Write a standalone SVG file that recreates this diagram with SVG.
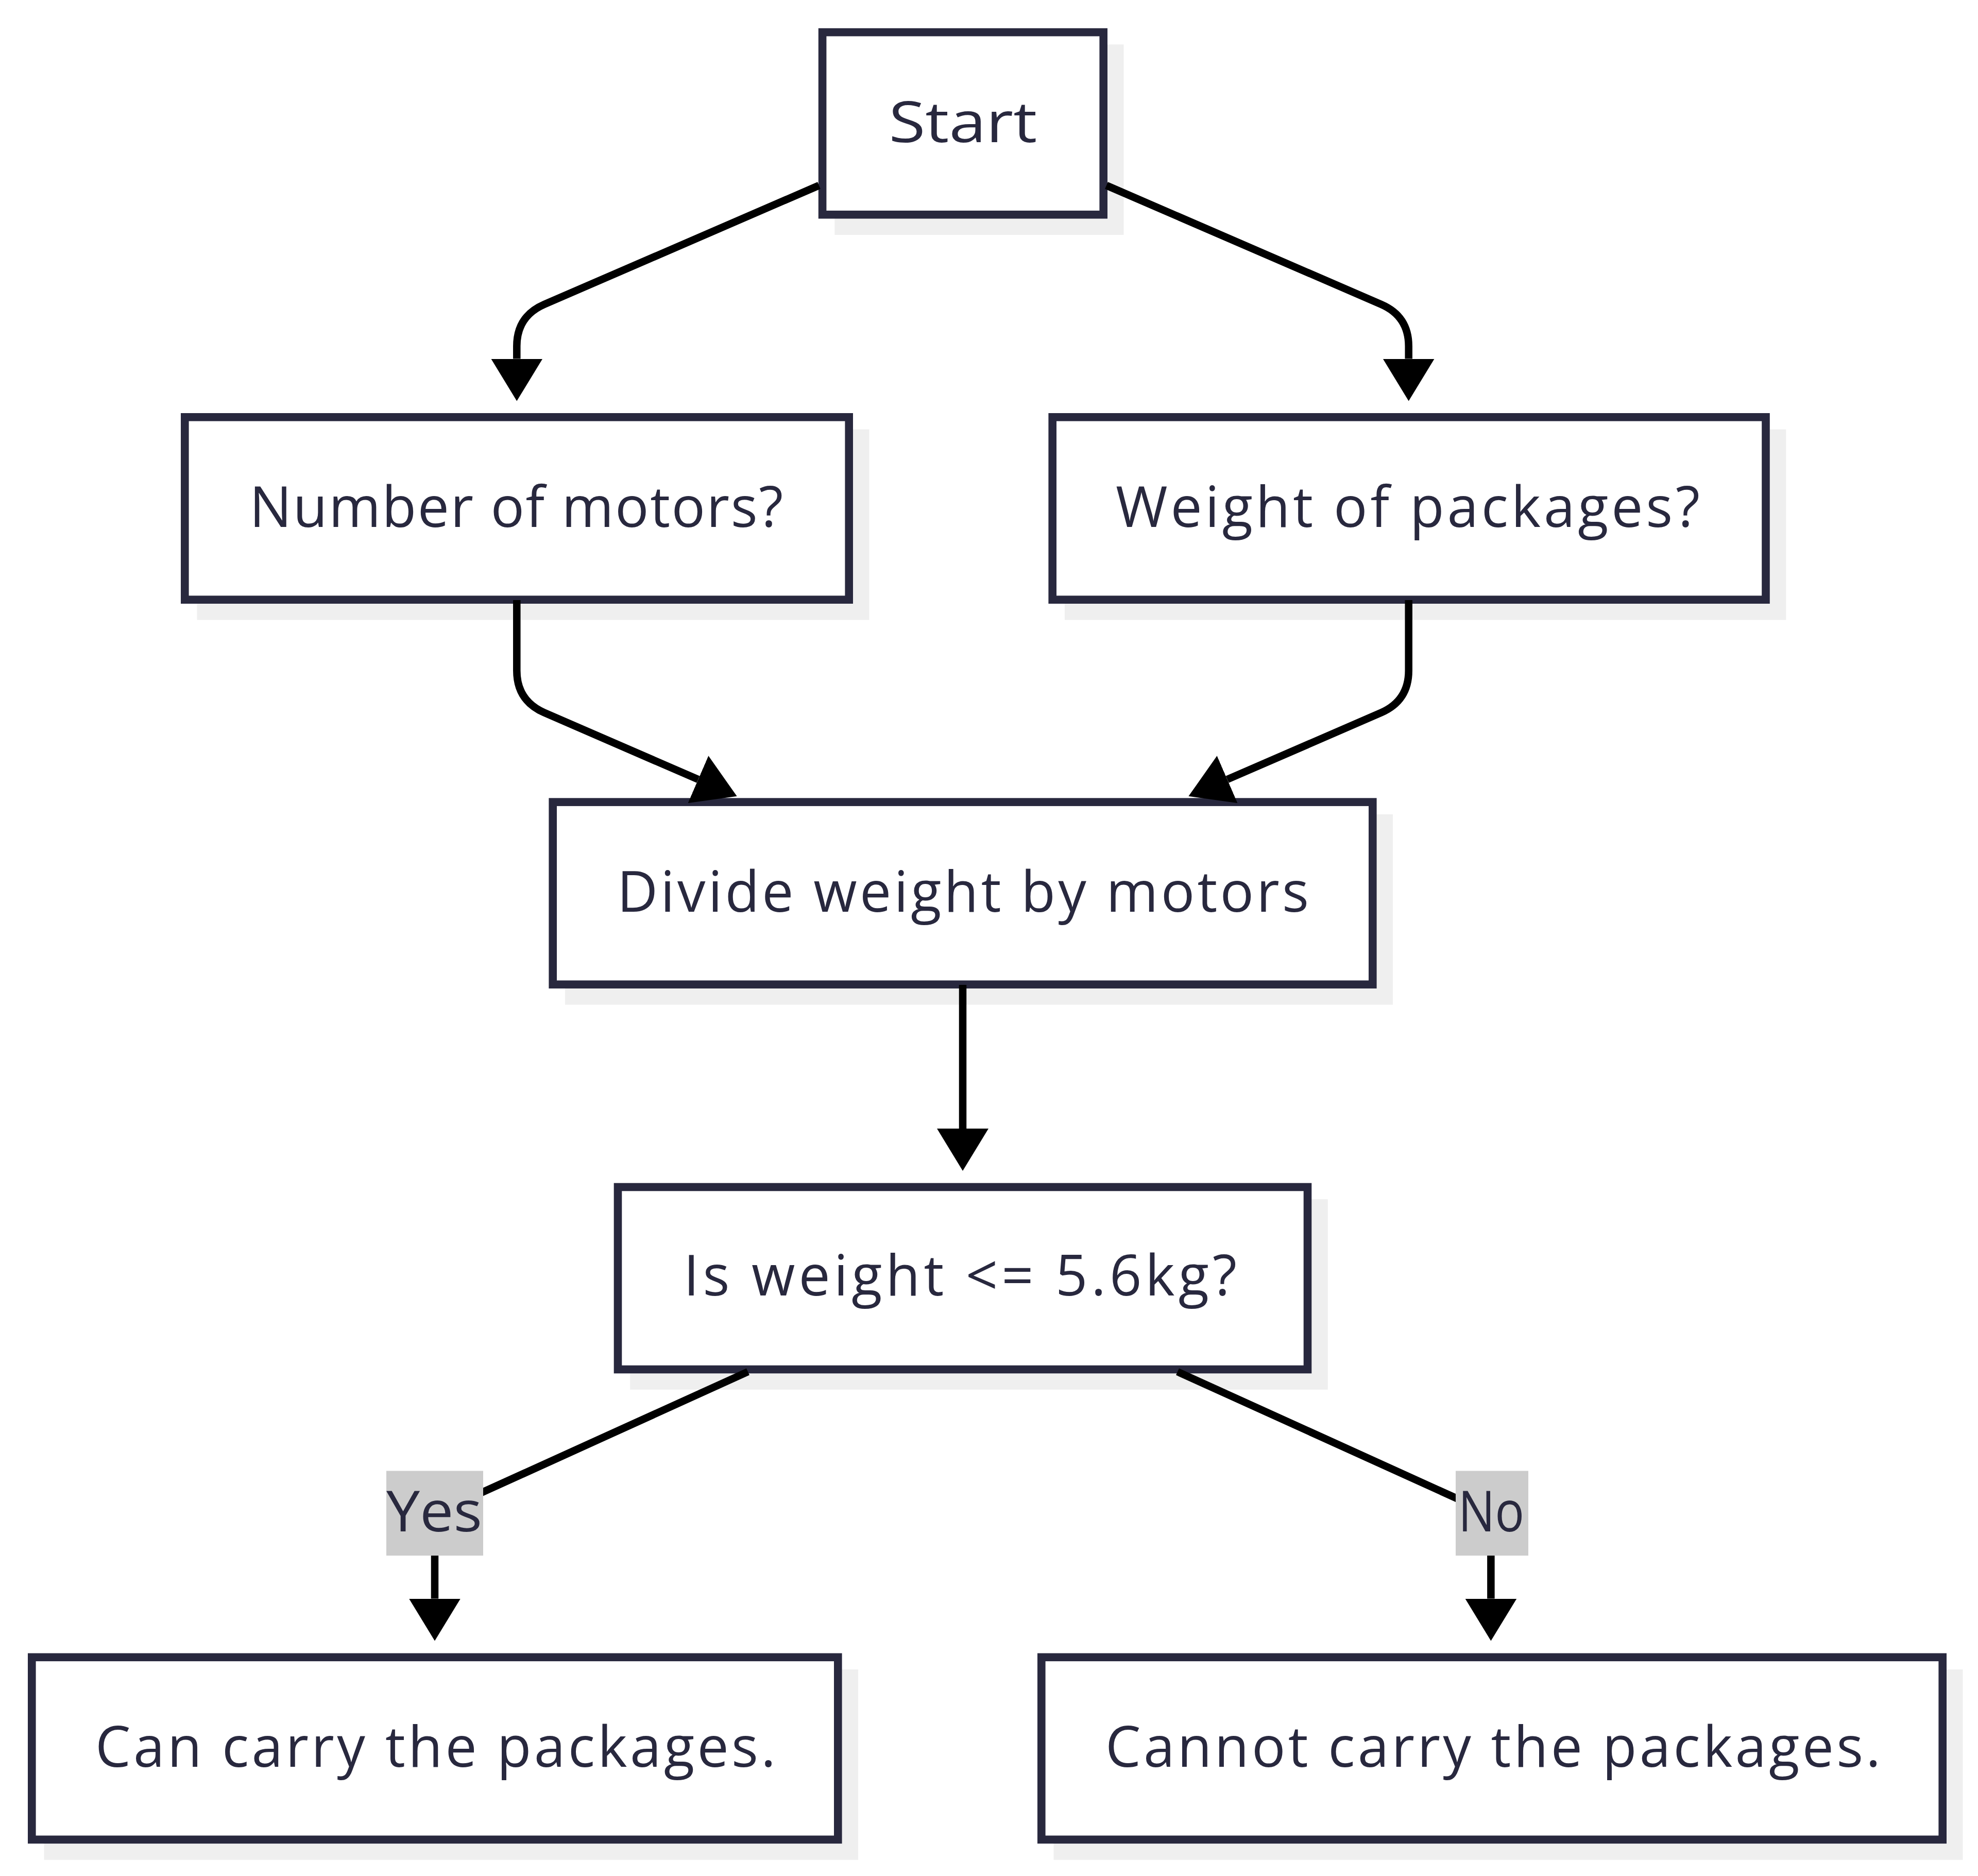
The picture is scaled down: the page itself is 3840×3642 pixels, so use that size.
<svg xmlns="http://www.w3.org/2000/svg" width="3840" height="3642" viewBox="0 0 3840 3642">
<defs>
<style>
.shadow{fill:#efefef}
.box{fill:#ffffff;stroke:#28283e;stroke-width:15.6}
.lbl{font-family:"Open Sans","Liberation Sans",sans-serif;font-size:109px;fill:#28283e;text-anchor:middle}
.edge{fill:none;stroke:#000000;stroke-width:14.5;marker-end:url(#ah)}
.ebg{fill:#cccccc}
</style>
<marker id="ah" markerUnits="userSpaceOnUse" viewBox="0 0 82 100" markerWidth="82" markerHeight="100" refX="0" refY="50" orient="auto">
<path d="M0,0 L82,50 L0,100 Z" fill="#000000"/>
</marker>
</defs>
<rect x="0" y="0" width="3840" height="3642" fill="#ffffff"/>

<g id="node-start">
<rect class="shadow" x="1620.3" y="86.3" width="561.2" height="369.7"/>
<rect class="box" x="1596.6" y="62.6" width="545.6" height="354.1"/>
<text class="lbl" x="1869.4" y="275.5" textLength="288" lengthAdjust="spacingAndGlyphs">Start</text>
</g>

<g id="node-motors">
<rect class="shadow" x="382.5" y="833.5" width="1305" height="370"/>
<rect class="box" x="358.8" y="809.8" width="1289.4" height="354.4"/>
<text class="lbl" x="1002.2" y="1022.8" textLength="1036">Number of motors?</text>
</g>

<g id="node-weight">
<rect class="shadow" x="2066.9" y="833.5" width="1400.4" height="370"/>
<rect class="box" x="2043.2" y="809.8" width="1384.8" height="354.4"/>
<text class="lbl" x="2733" y="1022.8" textLength="1134">Weight of packages?</text>
</g>

<g id="node-divide">
<rect class="shadow" x="1096.9" y="1580.8" width="1607.2" height="369.7"/>
<rect class="box" x="1073.2" y="1557.1" width="1591.6" height="354.1"/>
<text class="lbl" x="1869.5" y="1770" textLength="1343">Divide weight by motors</text>
</g>

<g id="node-decision">
<rect class="shadow" x="1223.2" y="2328.2" width="1354.6" height="369.6"/>
<rect class="box" x="1199.5" y="2304.5" width="1339" height="354"/>
<text class="lbl" x="1864" y="2515" textLength="1074">Is weight &lt;= 5.6kg?</text>
</g>

<g id="node-can">
<rect class="shadow" x="85.5" y="3241" width="1580.6" height="369.6"/>
<rect class="box" x="61.8" y="3217.3" width="1565" height="354"/>
<text class="lbl" x="845.5" y="3430" textLength="1321">Can carry the packages.</text>
</g>

<g id="node-cannot">
<rect class="shadow" x="2045.5" y="3241" width="1765" height="369.6"/>
<rect class="box" x="2021.8" y="3217.3" width="1749.4" height="354"/>
<text class="lbl" x="2898.5" y="3430" textLength="1505">Cannot carry the packages.</text>
</g>

<g id="connectors">
<path class="edge" d="M1590,360 L1056.7,590.9 Q1003.3,614 1003.3,672 L1003.3,696.5"/>
<path class="edge" d="M2148,360 L2681.3,590.9 Q2734.7,614 2734.7,672 L2734.7,696.5"/>
<path class="edge" d="M1003.3,1165 L1003.3,1302 Q1003.3,1360 1056.4,1383.4 L1355.4,1513.2"/>
<path class="edge" d="M2734.7,1165 L2734.7,1302 Q2734.7,1360 2681.6,1383.4 L2382.6,1513.2"/>
<path class="edge" d="M1869,1912 L1869,2191"/>
<path class="edge" d="M1452,2663 L844,2939 L844,3103.5"/>
<path class="edge" d="M2286,2663 L2894.4,2939 L2894.4,3103.5"/>
<g id="label-yes">
<rect class="ebg" x="750" y="2855.5" width="188" height="164.5"/>
<text class="lbl" x="843" y="2972.5" textLength="186" lengthAdjust="spacingAndGlyphs">Yes</text>
</g>
<g id="label-no">
<rect class="ebg" x="2826" y="2855.5" width="141" height="164.5"/>
<text class="lbl" x="2895" y="2972.5" textLength="128" lengthAdjust="spacingAndGlyphs">No</text>
</g>
</g>
</svg>
